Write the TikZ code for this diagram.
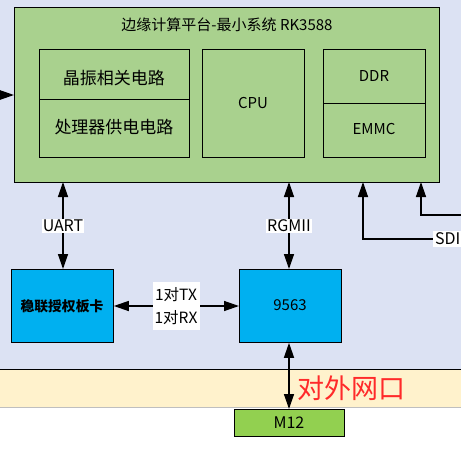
\documentclass[tikz,border=0pt]{standalone}
\usepackage{fontspec}
\setmainfont{Noto Sans CJK SC}
\usetikzlibrary{arrows.meta}
\definecolor{bgblue}{HTML}{DCE2F3}
\definecolor{beige}{HTML}{FFF2CC}
\definecolor{boxgreen}{HTML}{A9D18E}
\definecolor{boxblue}{HTML}{00B0F0}
\definecolor{m12green}{HTML}{92D050}
\definecolor{redtxt}{HTML}{FF2A2A}
\tikzset{
  blk/.style={draw=black, line width=0.8pt, inner sep=0pt, anchor=north west},
  conn/.style={line width=1.4pt, -{Triangle[length=15pt,width=10pt]}},
  bconn/.style={line width=1.4pt, {Triangle[length=15pt,width=10pt]}-{Triangle[length=15pt,width=10pt]}},
  lbl/.style={fill=white, inner sep=1pt, font=\fontsize{16}{18}\selectfont},
}
\begin{document}
\begin{tikzpicture}[x=1pt,y=-1pt]
\useasboundingbox (0,0) rectangle (461,467);
\fill[bgblue] (0,0) rectangle (461,369);
\fill[beige] (0,369) rectangle (461,407);
\draw[line width=0.8pt] (0,369) -- (461,369);
\draw[gray!50, line width=0.8pt] (0,407) -- (461,407);

\node[blk, fill=boxgreen, minimum width=425pt, minimum height=175pt] (main) at (14,7) {};
\node[font=\fontsize{15}{17}\selectfont] (title) at (227,25) {边缘计算平台-最小系统 RK3588};

\node[blk, minimum width=150pt, minimum height=50pt] (xtal) at (39,49) {};
\node[blk, minimum width=150pt, minimum height=58pt] (pwr) at (39,99) {};
\node[font=\fontsize{17}{19}\selectfont] (xtalt) at (114,78) {晶振相关电路};
\node[font=\fontsize{17}{19}\selectfont] (pwrt) at (114,127) {处理器供电电路};

\node[blk, minimum width=102pt, minimum height=108pt] (cpu) at (202,49) {};
\node[font=\fontsize{15}{17}\selectfont] (cput) at (253,103) {CPU};

\node[blk, minimum width=102pt, minimum height=54pt] (ddr) at (323,49) {};
\node[blk, minimum width=102pt, minimum height=54pt] (emmc) at (323,103) {};
\node[font=\fontsize{15}{17}\selectfont] (ddrt) at (374,76) {DDR};
\node[font=\fontsize{15}{17}\selectfont] (emmct) at (374,129) {EMMC};

\node[blk, fill=boxblue, minimum width=102pt, minimum height=73pt] (auth) at (11,269) {};
\node[font=\fontsize{13.8}{15}\selectfont\bfseries] (autht) at (62,306) {稳联授权板卡};
\node[blk, fill=boxblue, minimum width=102pt, minimum height=73pt] (phy) at (239,269) {};
\node[font=\fontsize{15}{17}\selectfont] (phyt) at (290,305) {9563};

\node[blk, fill=m12green, minimum width=110pt, minimum height=27pt] (m12) at (234,409) {};
\node[font=\fontsize{16}{18}\selectfont] (m12t) at (289,423) {M12};

% left incoming arrow
\coordinate (lin) at (0,95);
\draw[conn] (lin) -- (lin -| main.west);

% UART
\coordinate (ua) at (63,182);
\coordinate (ub) at (63,269);
\draw[bconn] (ua) -- (ub);
\node[lbl] (uartl) at (63,226) {UART};

% RGMII
\coordinate (ra) at (289,182);
\coordinate (rb) at (289,269);
\draw[bconn] (ra) -- (rb);
\node[lbl] (rgmiil) at (289,226) {RGMII};

% SDI lines
\coordinate (sa) at (363,182);
\coordinate (sb) at (363,239);
\coordinate (sc) at (461,239);
\draw[conn] (sc) -- (sb) -- (sa);
\node[lbl, anchor=east, inner sep=2pt] (sdil) at (462.5,239) {SDI};
\coordinate (ta) at (421,182);
\coordinate (tb) at (421,215);
\coordinate (tc) at (461,215);
\draw[conn] (tc) -- (tb) -- (ta);

% TX/RX
\draw[bconn] (auth.east |- 0,306) -- (phy.west |- 0,306);
\node[fill=white, inner sep=0pt, minimum width=47pt, minimum height=48pt] (txrx) at (176,306) {};
\node[font=\fontsize{15.5}{17}\selectfont] (tx) at (176,295) {1对TX};
\node[font=\fontsize{15.5}{17}\selectfont] (rx) at (176,318) {1对RX};

% to M12
\draw[bconn] (phy.south -| 289,0) -- (m12.north -| 289,0);
\node[text=redtxt, font=\fontsize{27}{29}\selectfont, anchor=west] (ext) at (294,388) {对外网口};
\end{tikzpicture}
\end{document}
